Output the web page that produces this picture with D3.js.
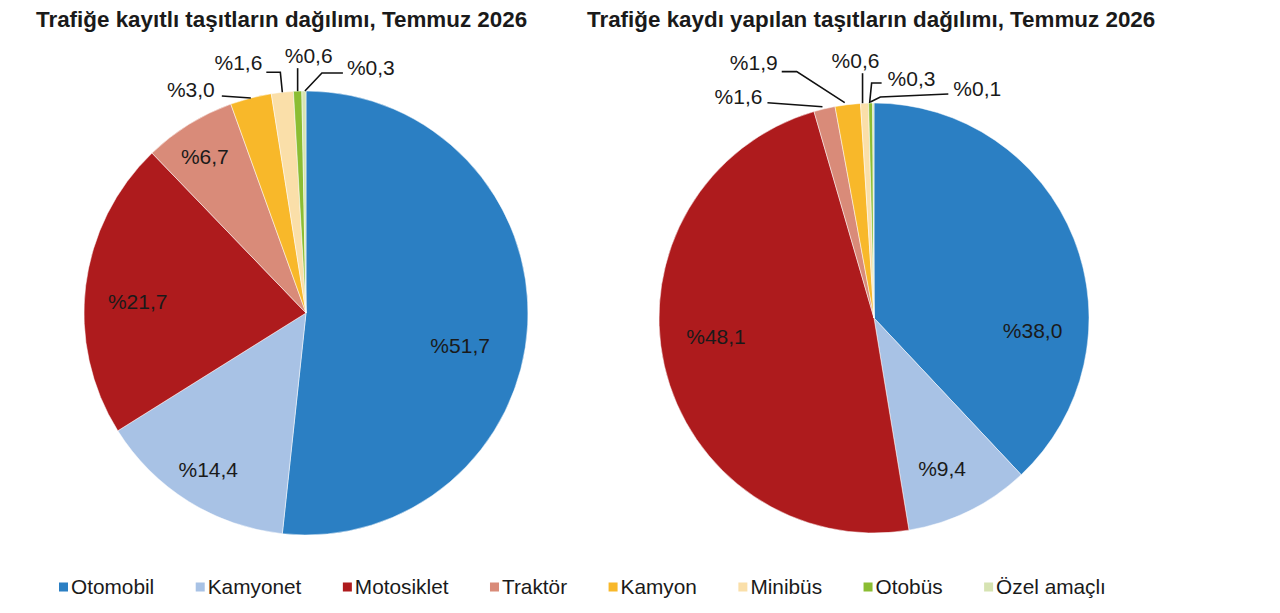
<!DOCTYPE html>
<html>
<head>
<meta charset="utf-8">
<script src="https://cdn.jsdelivr.net/npm/d3@7"></script>
<style>
  body { margin: 0; background: #fff; }
  text { font-family: "Liberation Sans", Arial, sans-serif; fill: #1a1a1a; }
</style>
</head>
<body>
<div id="chart-area"></div>
<script>
// data
const categories = ["Otomobil", "Kamyonet", "Motosiklet", "Traktör", "Kamyon", "Minibüs", "Otobüs", "Özel amaçlı"];
const kayitli = [51.7, 14.4, 21.7, 6.7, 3.0, 1.6, 0.6, 0.3];
const kaydiYapilan = [38.0, 9.4, 48.1, 1.6, 1.9, 0.6, 0.3, 0.1];
const colors = ["#2b7fc3", "#a8c2e5", "#ae1b1d", "#d98b79", "#f8b82a", "#fadfa9", "#8bbd33", "#d6e3b2"];
const titles = ["Trafiğe kayıtlı taşıtların dağılımı, Temmuz 2026", "Trafiğe kaydı yapılan taşıtların dağılımı, Temmuz 2026"];

// label layout: inside labels [radius factor, angle shift in degrees]
// outside labels: text offset from slice edge point + leader line points
const charts = [
    {
        values: kayitli, title: titles[0], cx: 306, cy: 313, r: 222, tx: 36,
        inside: { 0: [0.71, 9], 1: [0.83, 0], 2: [0.76, -3], 3: [0.84, -1] },
        outside: {
            4: { t: [-36, -8, "end"], line: [[-29, -2], [0, 0]] },
            5: { t: [-20, -30, "end"], line: [[-16, -20], [-2, -20], [0, 0]] },
            6: { t: [11, -36, "middle"], line: [[0, -23], [0, 0]] },
            7: { t: [43, -24, "start"], line: [[39, -18], [18, -18], [1, 0]] }
        }
    },
    {
        values: kaydiYapilan, title: titles[1], cx: 874, cy: 318, r: 215, tx: 587,
        inside: { 0: [0.74, 26], 1: [0.77, 2], 2: [0.74, 6] },
        outside: {
            3: { t: [-62, -12, "end"], line: [[-57, -6], [-2, -2]] },
            4: { t: [-70, -42, "end"], line: [[-66, -33], [-51, -33], [-3, -2]] },
            5: { t: [-9, -43, "middle"], line: [[-2, -30], [-2, 0]] },
            6: { t: [17, -25, "start"], line: [[11, -20], [1, -20], [-1, 0]] },
            7: { t: [80, -15, "start"], line: [[75, -9], [7, -6], [-3, -1]] }
        }
    }
];

const width = 1280, height = 613;

let svg = d3.select("#chart-area").append("svg")
    .attr("width", width)
    .attr("height", height);

svg.append("rect").attr("width", width).attr("height", height).attr("fill", "#fff");

const color = d3.scaleOrdinal().domain(categories).range(colors);
const fmt = v => "%" + d3.format(".1f")(v).replace(".", ",");

const pie = d3.pie().sort(null).value(d => d.value);

charts.forEach(function (c) {
    svg.append("text")
        .attr("x", c.tx)
        .attr("y", 27)
        .attr("font-size", 22.4)
        .attr("font-weight", "bold")
        .text(c.title);

    const data = categories.map((name, i) => ({ name: name, value: c.values[i] }));
    const arcs = pie(data);
    const arc = d3.arc().innerRadius(0).outerRadius(c.r);

    const g = svg.append("g").attr("transform", `translate(${c.cx},${c.cy})`);

    g.selectAll("path")
        .data(arcs)
        .enter()
        .append("path")
        .attr("d", arc)
        .attr("fill", d => color(d.data.name))
        .attr("stroke", "#fff")
        .attr("stroke-width", 0.5);

    arcs.forEach(function (d, i) {
        const mid = (d.startAngle + d.endAngle) / 2;
        if (c.inside[i]) {
            const [k, shift] = c.inside[i];
            const a = mid + shift * Math.PI / 180;
            g.append("text")
                .attr("x", Math.sin(a) * c.r * k)
                .attr("y", -Math.cos(a) * c.r * k)
                .attr("text-anchor", "middle")
                .attr("dominant-baseline", "central")
                .attr("font-size", 21)
                .text(fmt(d.data.value));
        } else if (c.outside[i]) {
            const o = c.outside[i];
            const ax = Math.sin(mid) * c.r, ay = -Math.cos(mid) * c.r;
            g.append("path")
                .attr("d", d3.line()(o.line.map(p => [ax + p[0], ay + p[1]])))
                .attr("fill", "none")
                .attr("stroke", "#111")
                .attr("stroke-width", 1.6);
            g.append("text")
                .attr("x", ax + o.t[0])
                .attr("y", ay + o.t[1])
                .attr("text-anchor", o.t[2])
                .attr("dominant-baseline", "central")
                .attr("font-size", 21)
                .text(fmt(d.data.value));
        }
    });
});

// legend
const legend = svg.append("g").attr("transform", "translate(59,587)");
let lx = 0;
categories.forEach(function (name) {
    legend.append("rect")
        .attr("x", lx)
        .attr("y", -4.5)
        .attr("width", 9)
        .attr("height", 9)
        .attr("fill", color(name));
    const t = legend.append("text")
        .attr("x", lx + 12)
        .attr("y", 7)
        .attr("font-size", 20.8)
        .text(name);
    lx += 12 + t.node().getComputedTextLength() + 41.5;
});
</script>
</body>
</html>
